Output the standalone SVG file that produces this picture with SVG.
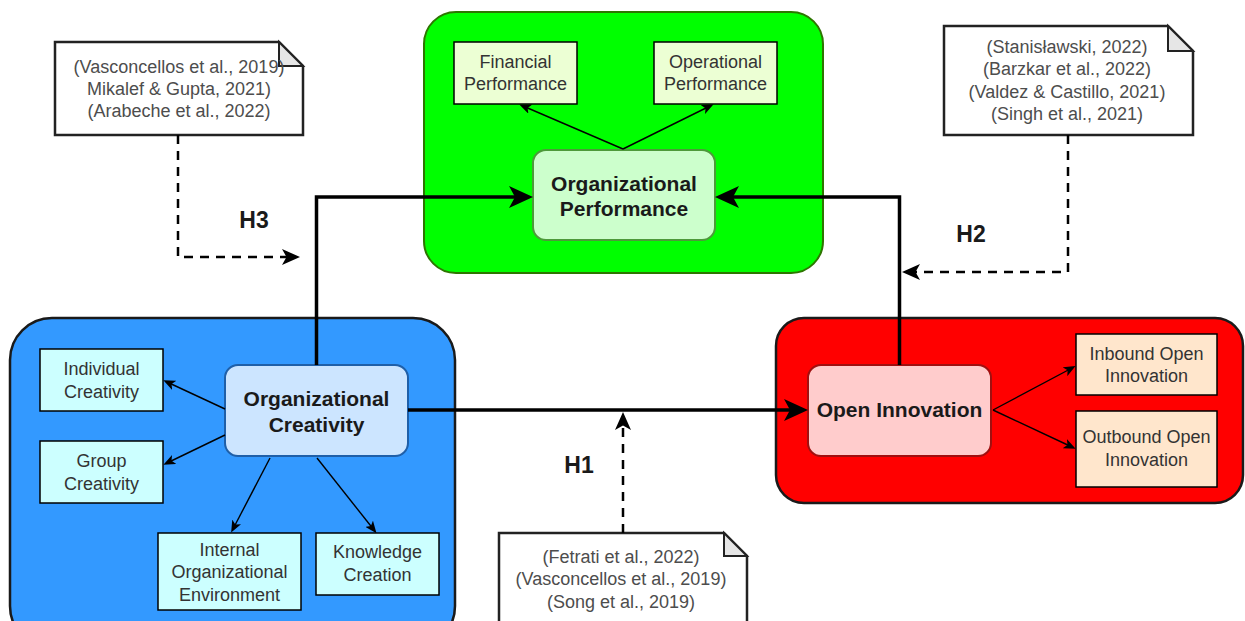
<svg xmlns="http://www.w3.org/2000/svg" width="1245" height="621" viewBox="0 0 1245 621">
<style>
.t{font-family:"Liberation Sans",Arial,sans-serif;font-size:18px;fill:#333;text-anchor:middle}
.n{font-family:"Liberation Sans",Arial,sans-serif;font-size:18px;fill:#4d4d4d;text-anchor:middle}
.b{font-family:"Liberation Sans",Arial,sans-serif;font-size:21px;font-weight:bold;fill:#1a1a1a;text-anchor:middle}
.h{font-family:"Liberation Sans",Arial,sans-serif;font-size:23px;font-weight:bold;fill:#1a1a1a;text-anchor:middle}
.sub{stroke:#000;stroke-width:1.5}
.thick{fill:none;stroke:#000;stroke-width:3.5}
.thin{fill:none;stroke:#000;stroke-width:1.4}
.dash{fill:none;stroke:#000;stroke-width:2.5;stroke-dasharray:9 7}
.note{fill:#fff;stroke:#222;stroke-width:2.5}
.fold{fill:#e6e6e6;stroke:#222;stroke-width:2}
</style>
<defs>
<marker id="mk" markerUnits="userSpaceOnUse" viewBox="0 0 24 22" markerWidth="24" markerHeight="22" refX="12" refY="11" orient="auto">
<path d="M0,0 L24,11 L0,22 L6,11 Z" fill="#000"/>
</marker>
<marker id="ms" markerUnits="userSpaceOnUse" viewBox="0 0 12 10" markerWidth="12" markerHeight="10" refX="8" refY="5" orient="auto">
<path d="M0,0 L12,5 L0,10 L3,5 Z" fill="#000"/>
</marker>
<marker id="md" markerUnits="userSpaceOnUse" viewBox="0 0 18 16" markerWidth="18" markerHeight="16" refX="10" refY="8" orient="auto">
<path d="M0,0 L18,8 L0,16 L4.5,8 Z" fill="#000"/>
</marker>
</defs>

<g id="perf-group">
<rect x="424" y="12" width="399" height="261" rx="32" fill="#00ff00" stroke="#2d7600" stroke-width="2"/>
</g>
<g id="creat-group">
<rect x="10" y="318" width="445" height="330" rx="42" fill="#3399ff" stroke="#1a1a1a" stroke-width="2.5"/>
</g>
<g id="oi-group">
<rect x="776" y="318" width="467" height="185" rx="28" fill="#ff0000" stroke="#1a1a1a" stroke-width="2.5"/>
</g>

<g id="financial">
<rect class="sub" x="454" y="42" width="123" height="62" fill="#ecffd4"/>
<text class="t" x="515.5" y="68">Financial</text>
<text class="t" x="515.5" y="90">Performance</text>
</g>
<g id="operational">
<rect class="sub" x="654" y="42" width="123" height="62" fill="#ecffd4"/>
<text class="t" x="715.5" y="68">Operational</text>
<text class="t" x="715.5" y="90">Performance</text>
</g>
<g id="org-performance">
<rect x="533" y="150" width="182" height="90" rx="13" fill="#ccffcc" stroke="#4d9a3a" stroke-width="2"/>
<text class="b" x="624" y="191">Organizational</text>
<text class="b" x="624" y="216">Performance</text>
</g>

<g id="individual">
<rect class="sub" x="40" y="349" width="123" height="62" fill="#ccffff"/>
<text class="t" x="101.5" y="375">Individual</text>
<text class="t" x="101.5" y="398">Creativity</text>
</g>
<g id="group">
<rect class="sub" x="40" y="441" width="123" height="62" fill="#ccffff"/>
<text class="t" x="101.5" y="467">Group</text>
<text class="t" x="101.5" y="490">Creativity</text>
</g>
<g id="internal">
<rect class="sub" x="158" y="533" width="143" height="77" fill="#ccffff"/>
<text class="t" x="229.5" y="556">Internal</text>
<text class="t" x="229.5" y="578">Organizational</text>
<text class="t" x="229.5" y="601">Environment</text>
</g>
<g id="knowledge">
<rect class="sub" x="316" y="533" width="123" height="62" fill="#ccffff"/>
<text class="t" x="377.5" y="558">Knowledge</text>
<text class="t" x="377.5" y="581">Creation</text>
</g>
<g id="org-creativity">
<rect x="225" y="365" width="183" height="91" rx="13" fill="#cce5ff" stroke="#1f5fa8" stroke-width="2"/>
<text class="b" x="316.5" y="406">Organizational</text>
<text class="b" x="316.5" y="432">Creativity</text>
</g>

<g id="open-innovation">
<rect x="808" y="365" width="183" height="91" rx="13" fill="#ffcccc" stroke="#a01010" stroke-width="2"/>
<text class="b" x="899.5" y="417">Open Innovation</text>
</g>
<g id="inbound">
<rect class="sub" x="1076" y="334" width="141" height="61" fill="#ffe6cc"/>
<text class="t" x="1146.5" y="360">Inbound Open</text>
<text class="t" x="1146.5" y="382">Innovation</text>
</g>
<g id="outbound">
<rect class="sub" x="1076" y="411" width="141" height="76" fill="#ffe6cc"/>
<text class="t" x="1146.5" y="443">Outbound Open</text>
<text class="t" x="1146.5" y="466">Innovation</text>
</g>

<g id="note-h3">
<path class="note" d="M55,42 H279 L303,66 V135 H55 Z"/>
<path class="fold" d="M279,42 V66 H303 Z"/>
<text class="n" x="179" y="73">(Vasconcellos et al., 2019)</text>
<text class="n" x="179" y="95">Mikalef &amp; Gupta, 2021)</text>
<text class="n" x="179" y="117">(Arabeche et al., 2022)</text>
</g>
<g id="note-h2">
<path class="note" d="M944,26 H1168 L1193,51 V135 H944 Z"/>
<path class="fold" d="M1168,26 V51 H1193 Z"/>
<text class="n" x="1067" y="53">(Stanisławski, 2022)</text>
<text class="n" x="1067" y="75">(Barzkar et al., 2022)</text>
<text class="n" x="1067" y="98">(Valdez &amp; Castillo, 2021)</text>
<text class="n" x="1067" y="120">(Singh et al., 2021)</text>
</g>
<g id="note-h1">
<path class="note" d="M499,533 H724 L747,556 V640 H499 Z"/>
<path class="fold" d="M724,533 V556 H747 Z"/>
<text class="n" x="621" y="563">(Fetrati et al., 2022)</text>
<text class="n" x="621" y="585">(Vasconcellos et al., 2019)</text>
<text class="n" x="621" y="608">(Song et al., 2019)</text>
</g>

<g id="connectors">
<path class="thick" d="M316.5,365 V197 H521" marker-end="url(#mk)"/>
<path class="thick" d="M899.5,365 V197 H727" marker-end="url(#mk)"/>
<path class="thick" d="M408,410 H796" marker-end="url(#mk)"/>
<path class="thin" d="M623,149 L523,106" marker-end="url(#ms)"/>
<path class="thin" d="M623,149 L710,106" marker-end="url(#ms)"/>
<path class="thin" d="M225,409 L167,382" marker-end="url(#ms)"/>
<path class="thin" d="M225,435 L167,463" marker-end="url(#ms)"/>
<path class="thin" d="M270,458 L233,529" marker-end="url(#ms)"/>
<path class="thin" d="M317,458 L374,530" marker-end="url(#ms)"/>
<path class="thin" d="M993,410 L1072,368" marker-end="url(#ms)"/>
<path class="thin" d="M993,410 L1072,447" marker-end="url(#ms)"/>
<path class="dash" d="M178,135 V257 H292" marker-end="url(#md)"/>
<path class="dash" d="M1068,135 V272 H910" marker-end="url(#md)"/>
<path class="dash" d="M623,533 V420" marker-end="url(#md)"/>
</g>

<g id="labels">
<text class="h" x="254" y="228">H3</text>
<text class="h" x="971" y="242">H2</text>
<text class="h" x="579" y="473">H1</text>
</g>
</svg>
